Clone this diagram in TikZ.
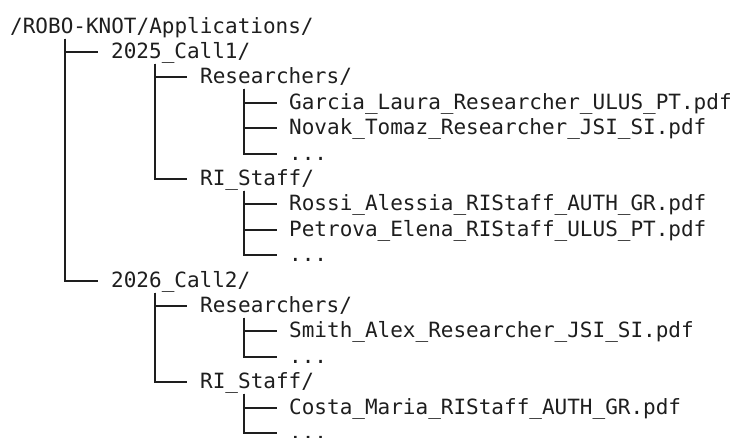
\documentclass[tikz,border=0pt]{standalone}
\usepackage{fontspec}
\newfontfamily\treefont{DejaVu Sans Mono}
\definecolor{ink}{HTML}{1E1E1E}
\begin{document}
\begin{tikzpicture}[x=1pt,y=-1pt,
  ent/.style={anchor=west,inner sep=0pt,text height=13pt,text depth=0pt,
    font=\treefont\fontsize{21}{21}\selectfont,text=ink},
  br/.style={draw=ink,line width=1.6pt}]
\useasboundingbox (0,0) rectangle (736,437);
\clip (0,0) rectangle (736,437);
% entries
\node[ent] (r)   at (10,27)  {/ROBO-KNOT/Applications/};
\node[ent] (c1)  at (111,52) {2025\_Call1/};
\node[ent] (c1r) at (200,77) {Researchers/};
\node[ent] (f1)  at (289,103){Garcia\_Laura\_Researcher\_ULUS\_PT.pdf};
\node[ent] (f2)  at (289,128){Novak\_Tomaz\_Researcher\_JSI\_SI.pdf};
\node[ent] (f3)  at (289,154){...};
\node[ent] (c1s) at (200,179){RI\_Staff/};
\node[ent] (f4)  at (289,204){Rossi\_Alessia\_RIStaff\_AUTH\_GR.pdf};
\node[ent] (f5)  at (289,230){Petrova\_Elena\_RIStaff\_ULUS\_PT.pdf};
\node[ent] (f6)  at (289,255){...};
\node[ent] (c2)  at (111,281){2026\_Call2/};
\node[ent] (c2r) at (200,306){Researchers/};
\node[ent] (f7)  at (289,331){Smith\_Alex\_Researcher\_JSI\_SI.pdf};
\node[ent] (f8)  at (289,357){...};
\node[ent] (c2s) at (200,382){RI\_Staff/};
\node[ent] (f9)  at (289,408){Costa\_Maria\_RIStaff\_AUTH\_GR.pdf};
\node[ent] (f10) at (289,433){...};
% branches
\foreach \c in {c1,c2}
  \draw[br] ([xshift=55pt,yshift=-5pt]r.south west) |- ([xshift=-13pt]\c.west);
\foreach \c in {c1r,c1s}
  \draw[br] ([xshift=44pt,yshift=-5pt]c1.south west) |- ([xshift=-13pt]\c.west);
\foreach \c in {c2r,c2s}
  \draw[br] ([xshift=44pt,yshift=-5pt]c2.south west) |- ([xshift=-13pt]\c.west);
\foreach \c in {f1,f2,f3}
  \draw[br] ([xshift=44pt,yshift=-5pt]c1r.south west) |- ([xshift=-12pt]\c.west);
\foreach \c in {f4,f5,f6}
  \draw[br] ([xshift=44pt,yshift=-5pt]c1s.south west) |- ([xshift=-12pt]\c.west);
\foreach \c in {f7,f8}
  \draw[br] ([xshift=44pt,yshift=-5pt]c2r.south west) |- ([xshift=-12pt]\c.west);
\foreach \c in {f9,f10}
  \draw[br] ([xshift=44pt,yshift=-5pt]c2s.south west) |- ([xshift=-12pt]\c.west);
\end{tikzpicture}
\end{document}
